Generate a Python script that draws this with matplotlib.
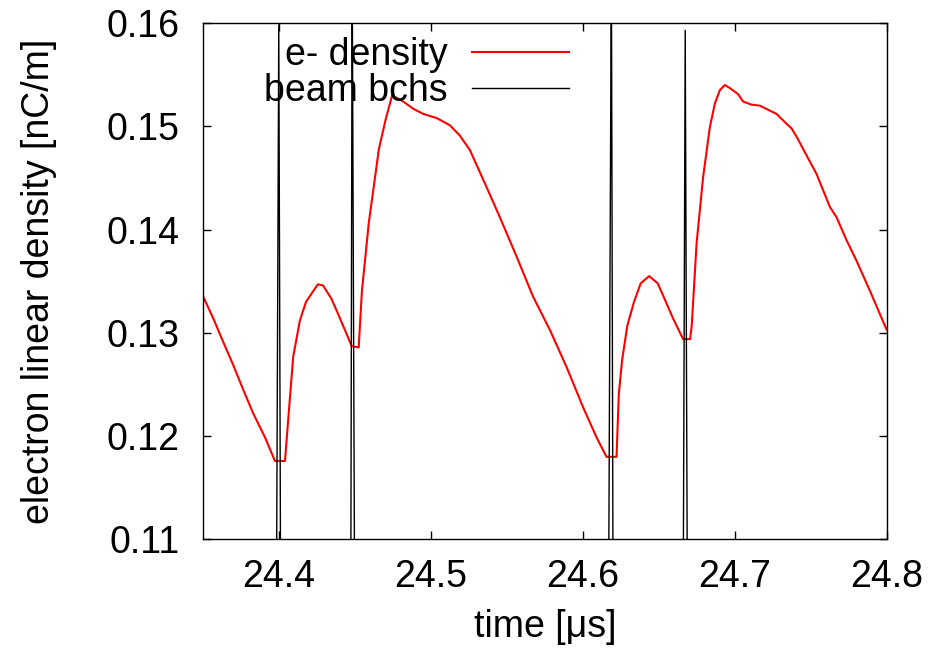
import numpy as np
import matplotlib.pyplot as plt

plt.rcParams['font.family'] = ['Liberation Sans', 'DejaVu Sans']

# electron line density (time in us, density in nC/m)
edens_t = [24.3502, 24.3568, 24.3634, 24.3699, 24.3765, 24.3831, 24.3908, 24.3974,
           24.4040, 24.4061, 24.4094, 24.4138, 24.4178, 24.4256, 24.4290, 24.4346,
           24.4402, 24.4480, 24.4525, 24.4546, 24.4591, 24.4658, 24.4703, 24.4745,
           24.4818, 24.4884, 24.4950, 24.4994, 24.5038, 24.5125, 24.5191, 24.5257,
           24.5312, 24.5367, 24.5454, 24.5564, 24.5673, 24.5783, 24.5893, 24.6002,
           24.6090, 24.6156, 24.6222, 24.6237, 24.6259, 24.6293, 24.6337, 24.6381,
           24.6437, 24.6493, 24.6538, 24.6594, 24.6650, 24.6661, 24.6706, 24.6717,
           24.6749, 24.6792, 24.6836, 24.6869, 24.6902, 24.6935, 24.6968, 24.7023,
           24.7055, 24.7110, 24.7165, 24.7220, 24.7275, 24.7330, 24.7374, 24.7407,
           24.7472, 24.7538, 24.7626, 24.7670, 24.7735, 24.7801, 24.7889, 24.8000]
edens_v = [0.1335, 0.1314, 0.1291, 0.1269, 0.1245, 0.1222, 0.1199, 0.1176,
           0.1176, 0.1216, 0.1277, 0.1312, 0.1330, 0.1347, 0.1346, 0.1333,
           0.1314, 0.1287, 0.1286, 0.1340, 0.1406, 0.1478, 0.1507, 0.1530,
           0.1524, 0.1517, 0.1512, 0.1510, 0.1508, 0.1501, 0.1491, 0.1477,
           0.1459, 0.1441, 0.1412, 0.1374, 0.1335, 0.1303, 0.1267, 0.1228,
           0.1199, 0.1180, 0.1180, 0.1241, 0.1274, 0.1307, 0.1330, 0.1348,
           0.1355, 0.1348, 0.1333, 0.1314, 0.1297, 0.1294, 0.1294, 0.1307,
           0.1387, 0.1451, 0.1499, 0.1522, 0.1535, 0.1540, 0.1537, 0.1531,
           0.1524, 0.1521, 0.1520, 0.1516, 0.1512, 0.1504, 0.1498, 0.1490,
           0.1472, 0.1454, 0.1422, 0.1412, 0.1390, 0.1370, 0.1341, 0.1303]

# beam bunch signal (baseline sits below the plotted range)
beam_t = [24.35, 24.3984, 24.3999, 24.4011, 24.4473, 24.4482, 24.4498,
          24.6170, 24.6188, 24.6199, 24.6661, 24.6674, 24.6688, 24.80]
beam_v = [0.105, 0.105, 0.1598, 0.105, 0.105, 0.166, 0.105,
          0.105, 0.166, 0.105, 0.105, 0.1593, 0.105, 0.105]

xticks = [24.4, 24.5, 24.6, 24.7, 24.8]
yticks = [0.11, 0.12, 0.13, 0.14, 0.15, 0.16]

fig = plt.figure(figsize=(9.31, 6.56), dpi=100)
ax = fig.add_axes([0.218, 0.1776, 0.7344, 0.7873])

ax.plot(edens_t, edens_v, color='#ff0000', lw=1.5, label='e- density')
ax.plot(beam_t, beam_v, color='black', lw=1.0, label='beam bchs')

ax.set_xlim(24.35, 24.8)
ax.set_ylim(0.11, 0.16)
ax.set_xticks(xticks)
ax.set_xticklabels([f'{t:.1f}' for t in xticks])
ax.set_yticks(yticks)
ax.set_yticklabels([f'{v:.2f}' for v in yticks])
ax.tick_params(direction='in', length=6, width=1, top=True, right=True, labelsize=27)
ax.tick_params(axis='x', pad=14)
ax.tick_params(axis='y', pad=17)
for s in ax.spines.values():
    s.set_linewidth(1.0)

ax.set_xlabel('time [μs]', fontsize=27)
ax.set_ylabel('electron linear density [nC/m]', fontsize=27)
ax.xaxis.set_label_coords(0.5, -0.135)
ax.yaxis.set_label_coords(-0.2135, 0.5)

ax.legend(loc='upper right', bbox_to_anchor=(0.547, 0.9865), frameon=False, markerfirst=False,
          handlelength=2.6, handletextpad=0.65, labelspacing=0.0, borderpad=0.2,
          borderaxespad=0, fontsize=27)

fig.savefig('out.png', dpi=100)
